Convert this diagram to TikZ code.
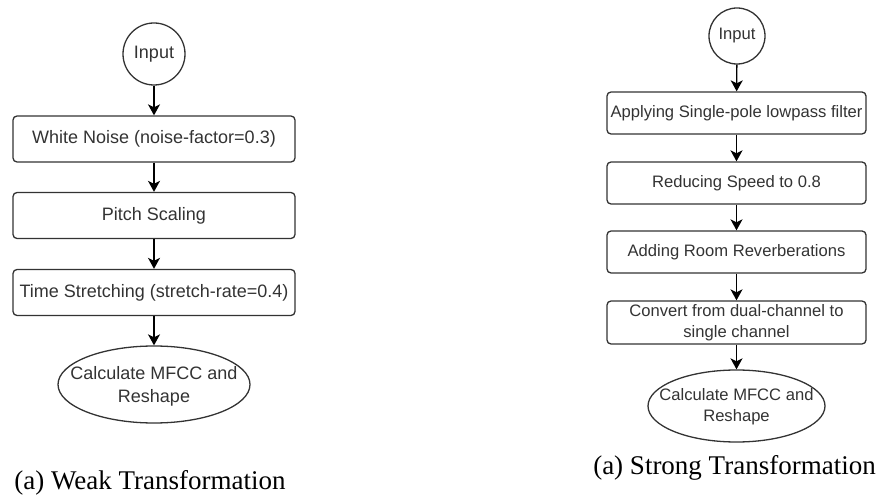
\documentclass[tikz,border=0pt]{standalone}
\usepackage{fontspec}
\setmainfont{Liberation Serif}
\newfontfamily\boxfont{Liberation Sans}
\usetikzlibrary{shapes.geometric,arrows.meta}
\definecolor{ink}{HTML}{333333}
\begin{document}
\begin{tikzpicture}[x=1pt,y=-1pt,
  base/.style={draw=ink, line width=1.3pt, text=ink, inner sep=0pt, align=center},
  lfont/.style={font=\boxfont\fontsize{18}{23}\selectfont},
  rfont/.style={font=\boxfont\fontsize{16.6}{21}\selectfont},
  lproc/.style={base, lfont, rectangle, rounded corners=4pt, minimum width=282pt, minimum height=46pt},
  rproc/.style={base, rfont, rectangle, rounded corners=4pt, minimum width=259pt, minimum height=42pt},
  oval/.style={base, ellipse},
  ovaltext/.style={text=ink, inner sep=0pt, align=center},
  arr/.style={draw=black, line width=1.4pt, -{Stealth[length=11pt,width=12pt,inset=3pt]}},
  captext/.style={font=\fontsize{27}{32}\selectfont, inner sep=0pt, text=black}
]
\useasboundingbox (0,0) rectangle (879,497);
% left flow
\node[base, lfont, circle, minimum size=62pt] (lin) at (154,54) {Input};
\node[lproc] (l1) at (154,139) {White Noise (noise-factor=0.3)};
\node[lproc] (l2) at (154,215.5) {Pitch Scaling};
\node[lproc] (l3) at (154,292.5) {Time Stretching (stretch-rate=0.4)};
\node[oval, minimum width=192pt, minimum height=77pt] (l4) at (154,384.5) {};
\node[ovaltext, lfont] (l4t) at (154,386) {Calculate MFCC and\\Reshape};
\draw[arr] (lin) -- (l1);
\draw[arr] (l1) -- (l2);
\draw[arr] (l2) -- (l3);
\draw[arr] (l3) -- (l4);
\node[captext] (lcap) at (150,483) {(a) Weak Transformation};
% right flow
\node[base, rfont, circle, minimum size=56pt] (rin) at (737,36) {Input};
\node[rproc] (r1) at (736.5,113) {Applying Single-pole lowpass filter};
\node[rproc] (r2) at (736.5,183) {Reducing Speed to 0.8};
\node[rproc] (r3) at (736.5,252) {Adding Room Reverberations};
\node[rproc, minimum height=43pt] (r4) at (736.5,322.5) {Convert from dual-channel to\\single channel};
\node[oval, minimum width=177pt, minimum height=72pt] (r5) at (736.5,406) {};
\node[ovaltext, rfont] (r5t) at (736.5,407) {Calculate MFCC and\\Reshape};
\draw[arr] (rin) -- (r1);
\draw[arr] (r1) -- (r2);
\draw[arr] (r2) -- (r3);
\draw[arr] (r3) -- (r4);
\draw[arr] (r4) -- (r5);
\node[captext] (rcap) at (734.5,468) {(a) Strong Transformation};
\end{tikzpicture}
\end{document}
